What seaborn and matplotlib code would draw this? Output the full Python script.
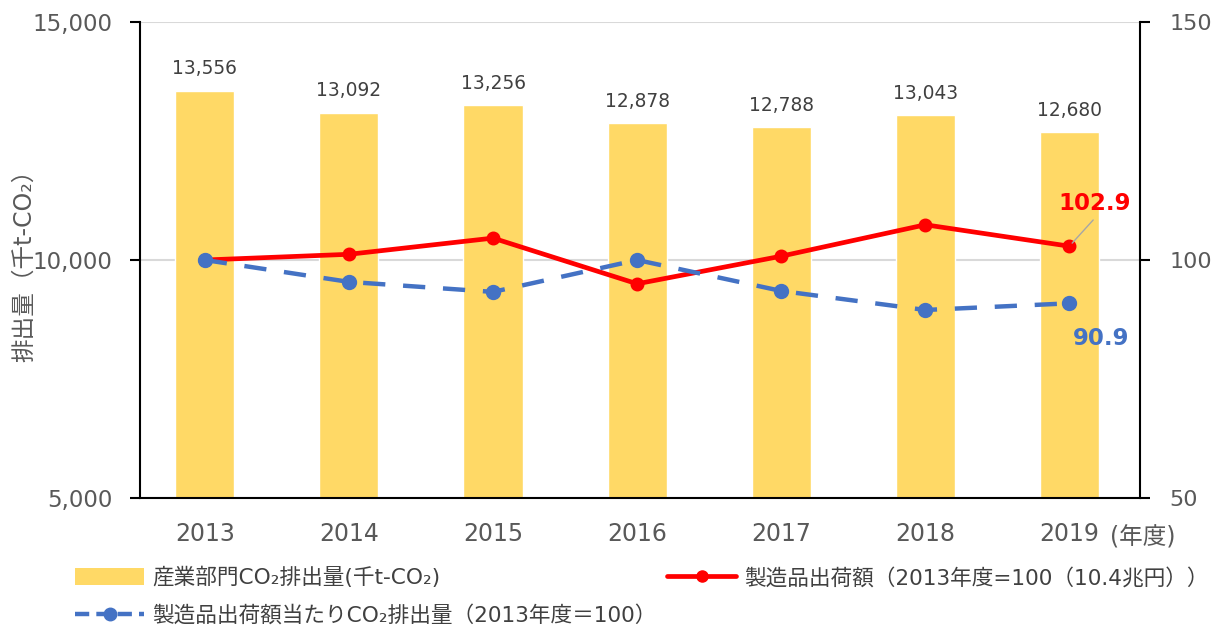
import matplotlib
matplotlib.use("Agg")
import matplotlib.pyplot as plt
import seaborn as sns
from matplotlib.lines import Line2D
from matplotlib.patches import Patch

# data
years = ["2013", "2014", "2015", "2016", "2017", "2018", "2019"]
co2_emissions = [13556, 13092, 13256, 12878, 12788, 13043, 12680]   # 千t-CO2
shipment_index = [100.0, 101.2, 104.6, 95.0, 100.8, 107.4, 102.9]  # 2013=100
intensity_index = [100.0, 95.4, 93.3, 100.0, 93.5, 89.5, 90.9]     # 2013=100

bar_label_text = "産業部門CO₂排出量(千t-CO₂)"
red_label_text = "製造品出荷額（2013年度=100（10.4兆円））"
blue_label_text = "製造品出荷額当たりCO₂排出量（2013年度＝100）"

BAR_COLOR = "#FFD966"
RED = "#FF0000"
BLUE = "#4472C4"
GRAY_TXT = "#595959"

sns.set_style("white")
plt.rcParams["font.family"] = ["DejaVu Sans", "Noto Sans CJK JP"]

fig = plt.figure(figsize=(12.24, 6.28), dpi=100)
ax = fig.add_axes([140 / 1224, 130 / 628, 1000 / 1224, 476 / 628])

# bars for CO2 emissions
sns.barplot(x=years, y=co2_emissions, color=BAR_COLOR, width=0.41,
            saturation=1, ax=ax, zorder=2)
ax.bar_label(ax.containers[0], labels=[f"{v:,}" for v in co2_emissions],
             padding=9, fontsize=13.4, color="#404040")
ax.set_ylim(5000, 15000)
ax.set_yticks([5000, 10000, 15000])
ax.set_yticklabels([f"{v:,}" for v in [5000, 10000, 15000]])
ax.yaxis.grid(True, color="#D9D9D9", lw=1.5)
ax.set_axisbelow(True)
ax.set_xlabel("")
ax.set_ylabel("排出量（千t-CO₂）", fontsize=17, color=GRAY_TXT)
ax.yaxis.set_label_coords(-0.104, 0.50)

# second axis for the two index lines
ax2 = ax.twinx()
sns.pointplot(x=years, y=shipment_index, color=RED, markers="o",
              linestyles="-", errorbar=None, ax=ax2)
sns.pointplot(x=years, y=intensity_index, color=BLUE, markers="o",
              linestyles="--", errorbar=None, ax=ax2)
red_line, blue_line = ax2.lines[0], ax2.lines[1]
red_line.set_linewidth(3.4)
red_line.set_markersize(8)
blue_line.set_linewidth(3.2)
blue_line.set_markersize(9)
blue_line.set_dashes([5, 4])
ax2.set_ylim(50, 150)
ax2.set_yticks([50, 100, 150])
ax2.grid(False)

ax.set_xlim(-0.45, 6.49)
ax2.set_xlim(-0.45, 6.49)

# end labels
ax2.annotate(f"{shipment_index[-1]:.1f}", xy=(6, shipment_index[-1]),
             xytext=(18, 31), textcoords="offset points", ha="center",
             va="center", fontsize=16.5, fontweight="bold", color=RED,
             arrowprops=dict(arrowstyle="-", color="#A6A6A6", lw=1,
                             relpos=(0.55, 0), shrinkB=3))
ax2.annotate(f"{intensity_index[-1]:.1f}", xy=(6, intensity_index[-1]),
             xytext=(23, -25), textcoords="offset points", ha="center",
             va="center", fontsize=16.5, fontweight="bold", color=BLUE)

# spines and ticks
for a in (ax, ax2):
    a.spines["top"].set_visible(False)
    for s in ("left", "right", "bottom"):
        a.spines[s].set_color("black")
        a.spines[s].set_linewidth(1.5)
ax.spines["right"].set_visible(False)
ax2.spines["left"].set_visible(False)
ax2.spines["bottom"].set_visible(False)
ax.tick_params(axis="y", direction="out", length=7, width=1.5, color="black",
               pad=13, labelsize=16.5, labelcolor=GRAY_TXT, left=True)
ax.tick_params(axis="x", length=0, pad=17, labelsize=17, labelcolor=GRAY_TXT)
ax2.tick_params(axis="y", direction="out", length=7, width=1.5, color="black",
                pad=14, labelsize=16, labelcolor=GRAY_TXT, right=True)

ax.text(0.97, -0.084, "(年度)", transform=ax.transAxes, ha="left",
        va="center", fontsize=17, color=GRAY_TXT)

# legend at the bottom
handles = [
    Patch(facecolor=BAR_COLOR, edgecolor="none"),
    Line2D([], [], color=BLUE, lw=3.2, dashes=[3.2, 1.6], marker="o", markersize=9),
    Line2D([], [], color=RED, lw=3.4, marker="o", markersize=8),
]
labels = [bar_label_text, blue_label_text, red_label_text]
fig.legend(handles, labels, loc="upper left", bbox_to_anchor=(75 / 1224, 1 - 567 / 628),
           ncol=2, frameon=False, fontsize=15.6, labelcolor="#404040",
           handlelength=3.2, handleheight=0.83, handletextpad=0.35,
           columnspacing=0.5, labelspacing=0.75, borderpad=0, borderaxespad=0)

fig.savefig("out.png", dpi=100)
